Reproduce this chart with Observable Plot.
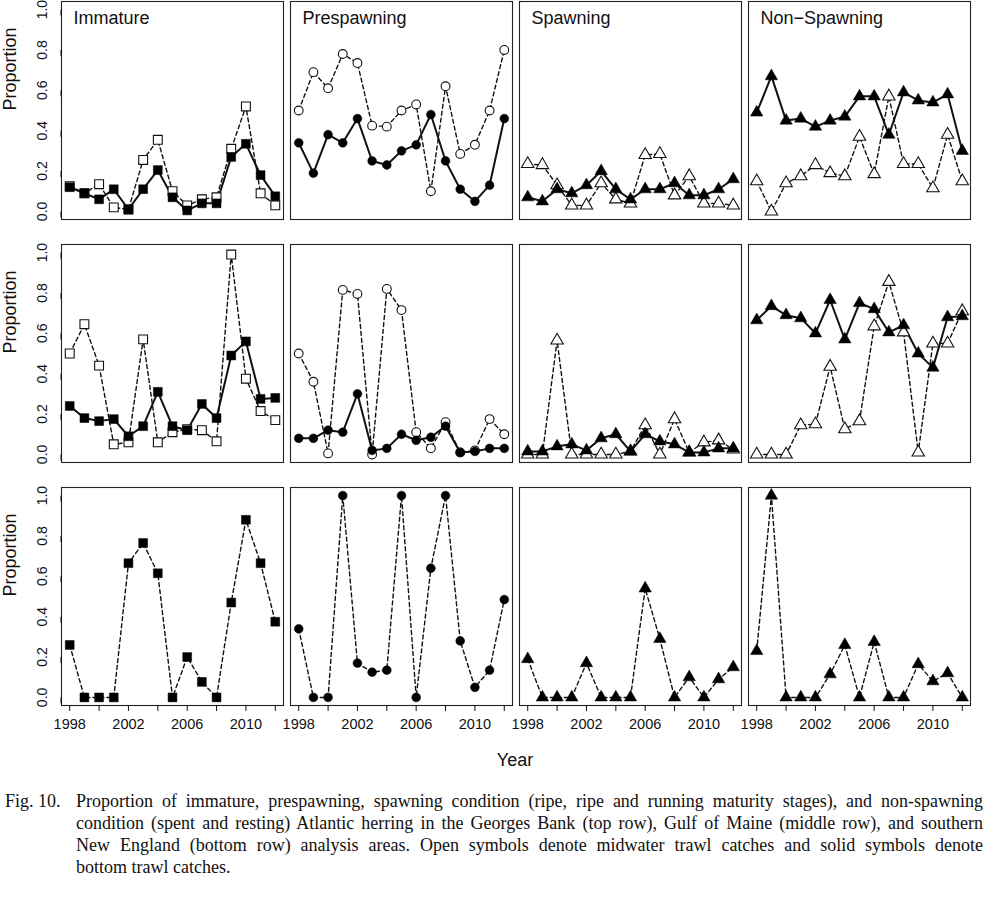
<!DOCTYPE html>
<html><head><meta charset="utf-8">
<script src="https://cdn.jsdelivr.net/npm/d3@7"></script>
<script src="https://cdn.jsdelivr.net/npm/@observablehq/plot@0.6"></script>
<style>
body{margin:0;background:#fff;font-family:"Liberation Sans",Arial,sans-serif;color:#111;}
#wrap{position:relative;width:993px;height:899px;overflow:hidden;}
#chart{position:absolute;left:0;top:0;}
#year{position:absolute;left:0;width:1030px;top:750px;text-align:center;font-size:18px;}
#caption{position:absolute;left:5px;top:790px;width:978px;font-family:"Liberation Serif","Times New Roman",serif;font-size:18px;line-height:22px;color:#111;}
.cap{display:flex}
.lab{width:71px;flex:none}
.body{flex:1}
.body div{text-align:justify;text-align-last:justify;white-space:nowrap;}
.body div.last{text-align-last:left;}
</style>
</head><body>
<div id="wrap">
<div id="chart"></div>
<div id="year">Year</div>
<div id="caption"><div class="cap"><div class="lab">Fig. 10.</div><div class="body">
<div>Proportion of immature, prespawning, spawning condition (ripe, ripe and running maturity stages), and non-spawning</div>
<div>condition (spent and resting) Atlantic herring in the Georges Bank (top row), Gulf of Maine (middle row), and southern</div>
<div>New England (bottom row) analysis areas. Open symbols denote midwater trawl catches and solid symbols denote</div>
<div class="last">bottom trawl catches.</div>
</div></div></div>
</div>
<script>
const years = [1998,1999,2000,2001,2002,2003,2004,2005,2006,2007,2008,2009,2010,2011,2012];
const stages = ["Immature","Prespawning","Spawning","Non\u2212Spawning"];
const areas = ["Georges Bank","Gulf of Maine","Southern New England"];
const stageSymbols = ["square","circle","triangle","triangle"];
const yTicks = [0,0.2,0.4,0.6,0.8,1.0];
const xTicks = [1998,2000,2002,2004,2006,2008,2010,2012];
const xLabels = [1998,2002,2006,2010];

// Georges Bank (top row)
const gbImmatureBottom    = [0.12,0.09,0.06,0.11,0.01,0.11,0.205,0.07,0.005,0.04,0.04,0.27,0.335,0.18,0.075];
const gbImmatureMidwater  = [0.125,0.09,0.135,0.02,0.01,0.255,0.355,0.10,0.03,0.06,0.07,0.31,0.52,0.09,0.03];
const gbPrespawnBottom    = [0.34,0.19,0.38,0.34,0.46,0.25,0.23,0.30,0.33,0.48,0.25,0.11,0.05,0.13,0.46];
const gbPrespawnMidwater  = [0.50,0.69,0.61,0.78,0.735,0.425,0.42,0.50,0.53,0.10,0.62,0.285,0.33,0.50,0.80];
const gbSpawningBottom    = [0.07,0.05,0.11,0.09,0.13,0.20,0.11,0.06,0.11,0.11,0.14,0.08,0.08,0.11,0.16];
const gbSpawningMidwater  = [0.235,0.23,0.13,0.03,0.03,0.14,0.06,0.04,0.28,0.285,0.08,0.175,0.04,0.04,0.03];
const gbNonSpawnBottom    = [0.49,0.67,0.45,0.46,0.42,0.45,0.47,0.57,0.57,0.38,0.59,0.55,0.54,0.58,0.30];
const gbNonSpawnMidwater  = [0.15,0.00,0.14,0.175,0.23,0.19,0.175,0.37,0.185,0.57,0.235,0.235,0.115,0.38,0.15];

// Gulf of Maine (middle row)
const gomImmatureBottom   = [0.24,0.18,0.165,0.175,0.09,0.14,0.31,0.14,0.12,0.25,0.18,0.49,0.56,0.275,0.28];
const gomImmatureMidwater = [0.50,0.645,0.44,0.05,0.06,0.57,0.06,0.11,0.125,0.12,0.065,0.99,0.375,0.215,0.17];
const gomPrespawnBottom   = [0.08,0.08,0.12,0.11,0.30,0.02,0.03,0.10,0.07,0.085,0.14,0.01,0.015,0.03,0.03];
const gomPrespawnMidwater = [0.50,0.36,0.005,0.815,0.795,0.00,0.82,0.715,0.11,0.03,0.16,0.01,0.02,0.175,0.10];
const gomSpawningBottom   = [0.015,0.015,0.04,0.05,0.02,0.08,0.10,0.015,0.10,0.065,0.05,0.01,0.01,0.03,0.03];
const gomSpawningMidwater = [0.00,0.00,0.565,0.00,0.00,0.00,0.00,0.015,0.145,0.00,0.175,0.01,0.06,0.07,0.025];
const gomNonSpawnBottom   = [0.665,0.735,0.69,0.675,0.60,0.765,0.57,0.75,0.72,0.605,0.64,0.50,0.43,0.68,0.685];
const gomNonSpawnMidwater = [0.00,0.00,0.00,0.145,0.15,0.435,0.125,0.165,0.635,0.855,0.605,0.01,0.55,0.55,0.71];

// Southern New England (bottom row)
const sneImmatureBottom   = [0.26,0.00,0.00,0.00,0.665,0.765,0.615,0.00,0.20,0.077,0.00,0.47,0.88,0.665,0.375];
const snePrespawnBottom   = [0.34,0.00,0.00,1.00,0.17,0.125,0.135,1.00,0.00,0.64,1.00,0.28,0.05,0.135,0.485];
const sneSpawningBottom   = [0.19,0.00,0.00,0.00,0.17,0.00,0.00,0.00,0.54,0.29,0.00,0.10,0.00,0.09,0.15];
const sneNonSpawnBottom   = [0.23,1.00,0.00,0.00,0.00,0.115,0.26,0.00,0.275,0.00,0.00,0.165,0.08,0.12,0.00];

const seriesList = [
  [areas[0],stages[0],"bottom",gbImmatureBottom],[areas[0],stages[0],"midwater",gbImmatureMidwater],
  [areas[0],stages[1],"bottom",gbPrespawnBottom],[areas[0],stages[1],"midwater",gbPrespawnMidwater],
  [areas[0],stages[2],"bottom",gbSpawningBottom],[areas[0],stages[2],"midwater",gbSpawningMidwater],
  [areas[0],stages[3],"bottom",gbNonSpawnBottom],[areas[0],stages[3],"midwater",gbNonSpawnMidwater],
  [areas[1],stages[0],"bottom",gomImmatureBottom],[areas[1],stages[0],"midwater",gomImmatureMidwater],
  [areas[1],stages[1],"bottom",gomPrespawnBottom],[areas[1],stages[1],"midwater",gomPrespawnMidwater],
  [areas[1],stages[2],"bottom",gomSpawningBottom],[areas[1],stages[2],"midwater",gomSpawningMidwater],
  [areas[1],stages[3],"bottom",gomNonSpawnBottom],[areas[1],stages[3],"midwater",gomNonSpawnMidwater],
  [areas[2],stages[0],"bottom",sneImmatureBottom],
  [areas[2],stages[1],"bottom",snePrespawnBottom],
  [areas[2],stages[2],"bottom",sneSpawningBottom],
  [areas[2],stages[3],"bottom",sneNonSpawnBottom]
];
const rows = [];
for (const [area, stage, gear, vals] of seriesList) {
  vals.forEach((v, i) => rows.push({year: years[i], value: v, area, stage, gear}));
}
const mid = rows.filter(d => d.gear === "midwater");
const botSolid = rows.filter(d => d.gear === "bottom" && d.area !== areas[2]);
const botDashed = rows.filter(d => d.gear === "bottom" && d.area === areas[2]);
const bot = rows.filter(d => d.gear === "bottom");

const common = {x: "year", y: "value", fx: "stage", fy: "area"};
const symR = {square: 5, circle: 4.4, triangle: 4.6};

const marks = [
  Plot.frame({stroke: "#222", strokeWidth: 1.1}),
  Plot.line(mid, {...common, stroke: "#111", strokeWidth: 1.4, strokeDasharray: "4,3"}),
  Plot.line(botSolid, {...common, stroke: "#111", strokeWidth: 2}),
  Plot.line(botDashed, {...common, stroke: "#111", strokeWidth: 1.4, strokeDasharray: "4,3"})
];
stages.forEach((s, i) => {
  const sym = stageSymbols[i];
  marks.push(Plot.dot(mid.filter(d => d.stage === s), {...common, symbol: sym, r: symR[sym], fill: "white", stroke: "#111", strokeWidth: 1.1}));
});
stages.forEach((s, i) => {
  const sym = stageSymbols[i];
  marks.push(Plot.dot(bot.filter(d => d.stage === s), {...common, symbol: sym, r: symR[sym], fill: "#000", stroke: "#000", strokeWidth: 0.5}));
});
marks.push(
  Plot.axisX({ticks: xTicks, tickFormat: d => xLabels.includes(d) ? String(d) : "", tickSize: 6, tickPadding: 7, label: null, fontSize: 14.5}),
  Plot.axisY({ticks: yTicks, tickFormat: d => d.toFixed(1), tickSize: 6, tickPadding: 13, textAnchor: "middle", rotate: -90, label: null, fontSize: 14}),
  Plot.text(areas.map(a => ({area: a})), {fy: "area", fx: () => stages[0], text: () => "Proportion", frameAnchor: "left", dx: -51, rotate: -90, fontSize: 18}),
  Plot.text(stages.map(s => ({stage: s})), {fx: "stage", fy: () => areas[0], text: "stage", frameAnchor: "top-left", textAnchor: "start", lineAnchor: "middle", dx: 12, dy: 17, fontSize: 18})
);

const chart = Plot.plot({
  width: 993, height: 780,
  marginLeft: 60, marginRight: 23, marginTop: 1, marginBottom: 75,
  style: {fontFamily: "'Liberation Sans', Arial, sans-serif", fontSize: "14px", color: "#111", background: "white"},
  fx: {domain: stages, paddingInner: 0.032, paddingOuter: 0, axis: null, label: null},
  fy: {domain: areas, paddingInner: 0.103, paddingOuter: 0, axis: null, label: null},
  x: {domain: [1997.44, 2012.56]},
  y: {domain: [-0.04, 1.04]},
  marks
});
document.getElementById("chart").appendChild(chart);
</script>
</body></html>
